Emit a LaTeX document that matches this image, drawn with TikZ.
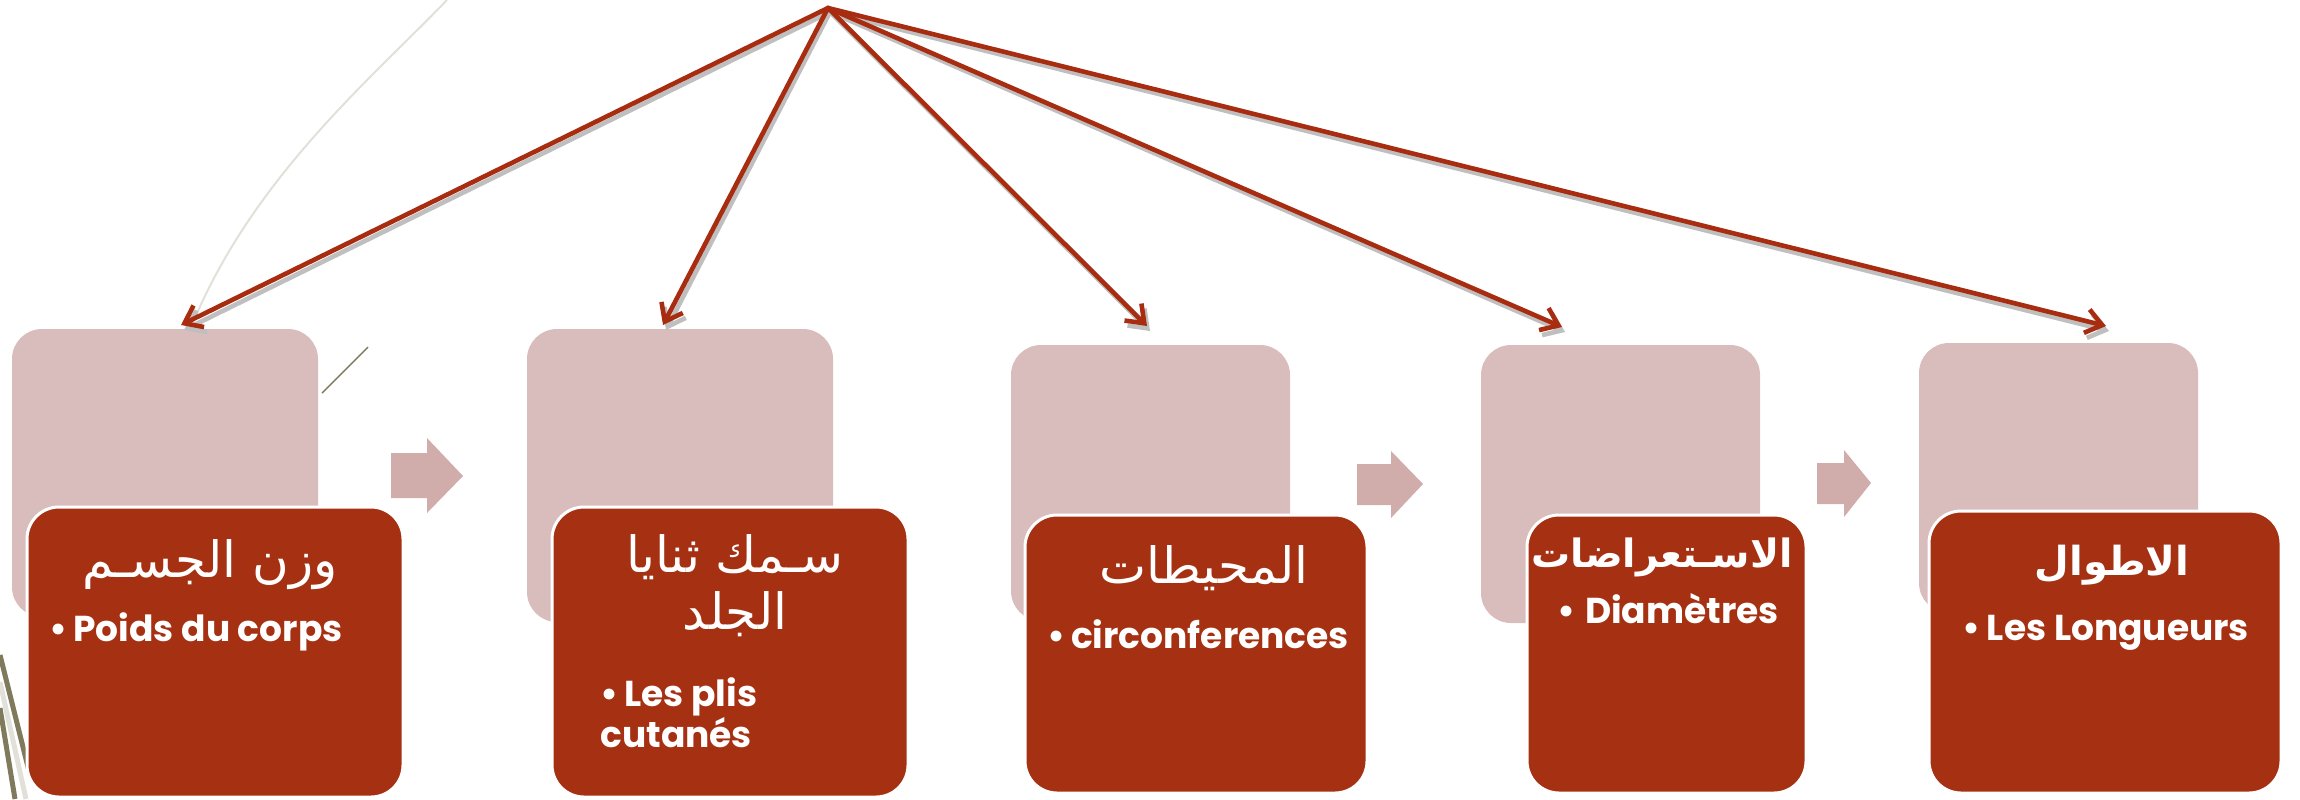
\documentclass[tikz,border=0pt]{standalone}
\usepackage{fontspec}
\usetikzlibrary{arrows.meta}
\TeXXeTstate=1
\newfontfamily\latfont{Poppins}
\newfontfamily\arabicfont[Script=Arabic]{DejaVu Sans}
\definecolor{boxred}{RGB}{165,48,18}
\definecolor{boxpink}{RGB}{217,188,188}
\definecolor{flowpink}{RGB}{208,172,170}
\definecolor{arrred}{RGB}{168,44,16}
\definecolor{olive}{RGB}{127,122,92}
\definecolor{pale}{RGB}{225,225,218}
\tikzset{
  pinkbox/.style={rectangle, rounded corners=15pt, fill=boxpink, inner sep=0pt},
  redbox/.style={rectangle, rounded corners=16pt, fill=boxred, draw=white, line width=1.5pt, inner sep=0pt},
  link/.style={draw=arrred, line width=2.3pt, line cap=round, -{Straight Barb[length=8pt,width=12pt,line width=2.3pt]}},
  linkshadow/.style={draw=black!25, line width=2.3pt, line cap=round, -{Straight Barb[length=8pt,width=12pt,line width=2.3pt]}},
  lat/.style={text=white, inner sep=0pt, font=\latfont\bfseries\fontsize{18pt}{19.5pt}\selectfont},
  arab/.style={text=white, inner sep=0pt, font=\arabicfont\fontsize{25pt}{28.5pt}\selectfont},
  arabb/.style={text=white, inner sep=0pt, font=\arabicfont\bfseries\fontsize{20pt}{24pt}\selectfont}
}
\begin{document}
\begin{tikzpicture}[x=0.5pt,y=-0.5pt]
\useasboundingbox (0,0) rectangle (2300,799);
% decorative background lines
\draw[pale, line width=1pt] (447,0) .. controls (370,80) and (250,180) .. (190,330);
\draw[pale, line width=2.5pt] (0,682) -- (26,799);
\draw[olive, line width=2.5pt] (0,655) -- (30,775);
\draw[olive, line width=2.5pt] (0,708) -- (15,799);
\draw[olive, line width=0.7pt] (322,393) -- (368,347);
% back (pink) boxes
\node[pinkbox, minimum width=153pt, minimum height=144pt] (p1) at (165,473) {};
\node[pinkbox, minimum width=153pt, minimum height=146.5pt] (p2) at (680,475.5) {};
\node[pinkbox, minimum width=139.5pt, minimum height=138pt] (p3) at (1150.5,483) {};
\node[pinkbox, minimum width=139.5pt, minimum height=139pt] (p4) at (1620.5,484) {};
\node[pinkbox, minimum width=139.5pt, minimum height=135pt] (p5) at (2058.5,478) {};
% flow arrows
\fill[flowpink] (391,453) -- (427,453) -- (427,438) -- (463,476) -- (427,513) -- (427,498) -- (391,498) -- cycle;
\fill[flowpink] (1357,464) -- (1391,464) -- (1391,451) -- (1423,484) -- (1391,518) -- (1391,505) -- (1357,505) -- cycle;
\fill[flowpink] (1817,463) -- (1844,463) -- (1844,450) -- (1871,483) -- (1844,517) -- (1844,504) -- (1817,504) -- cycle;
% front (red) boxes
\node[redbox, minimum width=188pt, minimum height=145pt] (r1) at (215,652) {};
\node[redbox, minimum width=178pt, minimum height=145pt] (r2) at (730,652) {};
\node[redbox, minimum width=171pt, minimum height=139pt] (r3) at (1196,654) {};
\node[redbox, minimum width=139.5pt, minimum height=139pt] (r4) at (1666.5,654) {};
\node[redbox, minimum width=176pt, minimum height=141pt] (r5) at (2105,652) {};
% texts
\node[arab, anchor=base] (a1) at (210,577) {\beginR وزن الجسـم\endR};
\node[lat, anchor=base] (b1) at (196,641) {•\hspace{3pt}Poids du corps};
\node[arab, align=center, anchor=north] (a2) at (735,534) {\beginR سـمك ثنايا\endR\\\beginR الجلد\endR};
\node[lat, align=left, anchor=north west] (b2) at (600,677) {•\hspace{3pt}Les plis\\cutanés};
\node[arab, anchor=base] (a3) at (1204,583) {\beginR المحيطات\endR};
\node[lat, anchor=base] (b3) at (1198,648) {•\hspace{3pt}circonferences};
\node[arabb, font=\arabicfont\bfseries\fontsize{19.5pt}{24pt}\selectfont, anchor=base] (a4) at (1662,567) {\beginR الاسـتعراضات\endR};
\node[lat, anchor=base] (b4) at (1668,623) {•\hspace{5pt}Diamètres};
\node[arabb, anchor=base] (a5) at (2112,575) {\beginR الاطوال\endR};
\node[lat, anchor=base] (b5) at (2106,640) {•\hspace{3pt}Les Longueurs};
% connectors
\coordinate (top) at (828,8);
\coordinate (e1) at (181,325);
\coordinate (e2) at (663,325);
\coordinate (e3) at (1147,326);
\coordinate (e4) at (1562,327);
\coordinate (e5) at (2106,326);
\coordinate (topS) at (830,12);
\coordinate (e1S) at (184,330);
\coordinate (e2S) at (666,330);
\coordinate (e3S) at (1150,331);
\coordinate (e4S) at (1565,332);
\coordinate (e5S) at (2109,331);
\foreach \e in {e1,e2,e3,e4,e5}{\draw[linkshadow] (topS) -- (\e S);}
\foreach \e in {e1,e2,e3,e4,e5}{\draw[link] (top) -- (\e);}
\end{tikzpicture}
\end{document}
